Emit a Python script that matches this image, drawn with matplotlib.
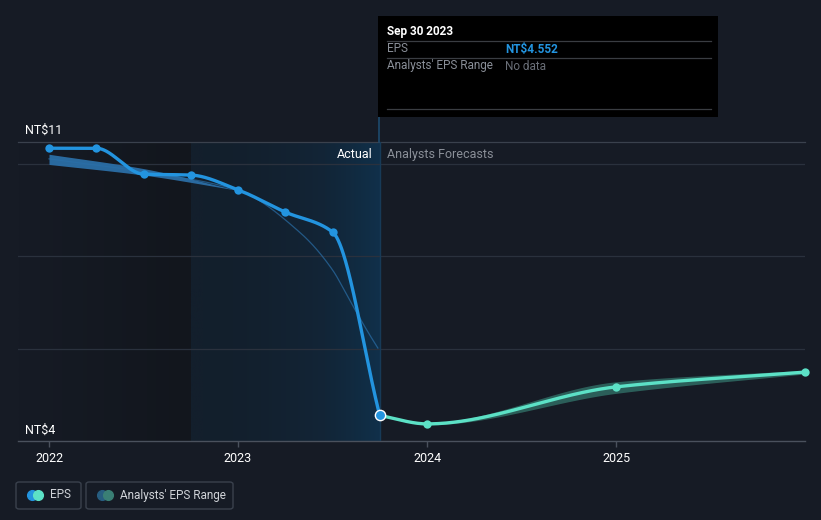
import numpy as np
import matplotlib
matplotlib.use("Agg")
import matplotlib.pyplot as plt
from matplotlib.patches import FancyBboxPatch, Rectangle
from matplotlib.colors import LinearSegmentedColormap

plt.rcParams['font.family'] = ['Roboto', 'DejaVu Sans']

# ---- Datos ----
# EPS real (fecha en años decimales)
actual_x = [2022.0, 2022.25, 2022.5, 2022.75, 2023.0, 2023.25, 2023.5, 2023.75]
actual_y = [10.33, 10.33, 9.77, 9.75, 9.43, 8.95, 8.52, 4.552]

# Previsión de analistas
forecast_x = [2023.75, 2024.0, 2025.0, 2026.0]
forecast_y = [4.552, 4.37, 5.17, 5.49]
forecast_lo = [4.552, 4.35, 5.03, 5.45]
forecast_hi = [4.552, 4.40, 5.28, 5.53]

# Estimación pasada (línea fina y banda)
past_x = [2022.0, 2022.5, 2023.0, 2023.33, 2023.5, 2023.59, 2023.69, 2023.74]
past_y = [10.10, 9.82, 9.42, 8.50, 7.70, 7.05, 6.34, 6.01]
past_band_x = [2022.0, 2022.5, 2023.0]
past_band_lo = [9.98, 9.75, 9.42]
past_band_hi = [10.20, 9.89, 9.42]

bg = "#161b25"
azul = "#2394df"
verde = "#5ce1c6"


def monotona(x, y, n=200):
    # Interpolación cúbica monótona (Fritsch-Carlson), como curveMonotoneX
    x = np.asarray(x, float)
    y = np.asarray(y, float)
    h = np.diff(x)
    d = np.diff(y) / h
    m = np.zeros_like(y)
    m[0] = d[0]
    m[-1] = d[-1]
    for i in range(1, len(y) - 1):
        if d[i - 1] * d[i] <= 0:
            m[i] = 0
        else:
            w1 = 2 * h[i] + h[i - 1]
            w2 = h[i] + 2 * h[i - 1]
            m[i] = (w1 + w2) / (w1 / d[i - 1] + w2 / d[i])
    xs, ys = [], []
    for i in range(len(h)):
        t = np.linspace(0, 1, n)
        h00 = 2 * t**3 - 3 * t**2 + 1
        h10 = t**3 - 2 * t**2 + t
        h01 = -2 * t**3 + 3 * t**2
        h11 = t**3 - t**2
        xs.append(x[i] + t * h[i])
        ys.append(h00 * y[i] + h10 * h[i] * m[i] + h01 * y[i + 1] + h11 * h[i] * m[i + 1])
    return np.concatenate(xs), np.concatenate(ys)


fig = plt.figure(figsize=(8.21, 5.2), dpi=100)
fig.patch.set_facecolor(bg)
W, H = 821, 520
ax = fig.add_axes([18 / W, (H - 441) / H, (805 - 18) / W, (441 - 142) / H])
ax.set_facecolor(bg)

x0, x1 = 2022 - 31 / 189, 2026.0
y0, y1 = 4.0, 4 + 299 / 46.25
ax.set_xlim(x0, x1)
ax.set_ylim(y0, y1)

# Zonas sombreadas
oscuro = LinearSegmentedColormap.from_list("o", [bg, "#12161d"])
ax.imshow(np.linspace(0, 1, 100)[None, :], cmap=oscuro, aspect="auto",
          extent=[x0, 2022.75, y0, y1], zorder=0)
azulado = LinearSegmentedColormap.from_list("a", ["#131f2c", "#122537", "#10304a"])
ax.imshow(np.linspace(0, 1, 100)[None, :] ** 2, cmap=azulado, aspect="auto",
          extent=[2022.75, 2023.75, y0, y1], zorder=0)

# Rejilla
for v in [6, 8, 10]:
    ax.axhline(v, color="#2a313d", lw=0.9, zorder=1)
ax.axhline(y1, color="#3a414d", lw=0.9, zorder=1, clip_on=False)
ax.axhline(y0, color="#4a515d", lw=1.0, zorder=1, clip_on=False)

# Estimación pasada
bx, blo = monotona(past_band_x, past_band_lo)
_, bhi = monotona(past_band_x, past_band_hi)
ax.fill_between(bx, blo, bhi, color="#2b6ea6", alpha=0.95, lw=0, zorder=2)
px, py = monotona(past_x, past_y)
ax.plot(px, py, color="#2a6fa8", lw=0.9, alpha=0.7, zorder=2)

# Banda de previsión
fx, flo = monotona(forecast_x, forecast_lo)
_, fhi = monotona(forecast_x, forecast_hi)
ax.fill_between(fx, flo, fhi, color="#2f6b63", alpha=0.85, lw=0, zorder=2)

# Líneas
ax.plot(*monotona(actual_x, actual_y), color=azul, lw=2.4, zorder=3,
        solid_capstyle="round")
ax.scatter(actual_x[:-1], actual_y[:-1], s=36, color=azul, zorder=4, lw=0)
ax.plot(*monotona(forecast_x, forecast_y), color=verde, lw=2.4, zorder=3)
ax.scatter(forecast_x[1:], forecast_y[1:], s=36, color=verde, zorder=4, lw=0,
           clip_on=False)
ax.scatter([actual_x[-1]], [actual_y[-1]], s=55, color=azul, edgecolor="white",
           lw=1.0, zorder=5)

# Línea vertical de hoy
ax.axvline(2023.75, color="#173a57", lw=1.0, zorder=1)
fig.add_artist(plt.Line2D([379 / W, 379 / W], [(H - 142) / H, (H - 117) / H],
                          color="#1d4a6e", lw=1.2))

ax.text(2023.75 - 0.04, y1 - 0.27, "Actual", color="white", fontsize=9,
        ha="right", va="center", zorder=6)
ax.text(2023.75 + 0.04, y1 - 0.27, "Analysts Forecasts", color="#8a8f98",
        fontsize=9, ha="left", va="center", zorder=6)

# Ejes
for s in ax.spines.values():
    s.set_visible(False)
ax.set_yticks([])
ax.set_xticks([2022, 2023, 2024, 2025])
ax.set_xticklabels(["2022", "2023", "2024", "2025"])
ax.tick_params(axis="x", colors="#4a515d", labelcolor="white", labelsize=9,
               length=4, width=1, pad=4)

fig.text(25 / W, (H - 130) / H, "NT$11", color="white", fontsize=9, va="center")
fig.text(25 / W, (H - 430) / H, "NT$4", color="white", fontsize=9, va="center")

# Tooltip
fig.add_artist(Rectangle((378 / W, (H - 117) / H), 340 / W, 101 / H,
                         facecolor="black", edgecolor="none", zorder=10))
for yy in [41, 58, 109]:
    fig.add_artist(plt.Line2D([387 / W, 711 / W], [(H - yy) / H] * 2,
                              color="#3a3d42", lw=0.9, zorder=11))
fig.text(387 / W, (H - 31) / H, "Sep 30 2023", color="white", fontsize=8.5,
         fontweight="bold", va="center", zorder=12)
fig.text(387 / W, (H - 49) / H, "EPS", color="#8a8f98", fontsize=8.5,
         va="center", zorder=12)
fig.text(505 / W, (H - 49) / H, "NT$4.552", color=azul, fontsize=8.5,
         fontweight="bold", va="center", zorder=12)
fig.text(387 / W, (H - 66) / H, "Analysts' EPS Range", color="#8a8f98",
         fontsize=8.5, va="center", zorder=12)
fig.text(505 / W, (H - 66) / H, "No data", color="#6a6f78", fontsize=8.5,
         va="center", zorder=12)

# Leyenda
for (lx, lw_) in [(16, 65), (86, 147)]:
    fig.add_artist(FancyBboxPatch((lx / W, (H - 509) / H), lw_ / W, 27 / H,
                                  boxstyle="round,pad=0,rounding_size=0.004",
                                  facecolor="none", edgecolor="#3a414d", lw=1))
fig.add_artist(plt.Line2D([32 / W], [(H - 495) / H], marker="o", ms=7,
                          color=azul, lw=0))
fig.add_artist(plt.Line2D([38 / W], [(H - 495) / H], marker="o", ms=7,
                          color=verde, lw=0))
fig.text(50 / W, (H - 495) / H, "EPS", color="#d0d3d8", fontsize=8.5, va="center")
fig.add_artist(plt.Line2D([102 / W], [(H - 495) / H], marker="o", ms=7,
                          color="#275d80", lw=0))
fig.add_artist(plt.Line2D([108 / W], [(H - 495) / H], marker="o", ms=7,
                          color="#3a7f75", lw=0))
fig.text(120 / W, (H - 495) / H, "Analysts' EPS Range", color="#d0d3d8",
         fontsize=8.5, va="center")

fig.savefig("out.png", dpi=100, facecolor=bg)
